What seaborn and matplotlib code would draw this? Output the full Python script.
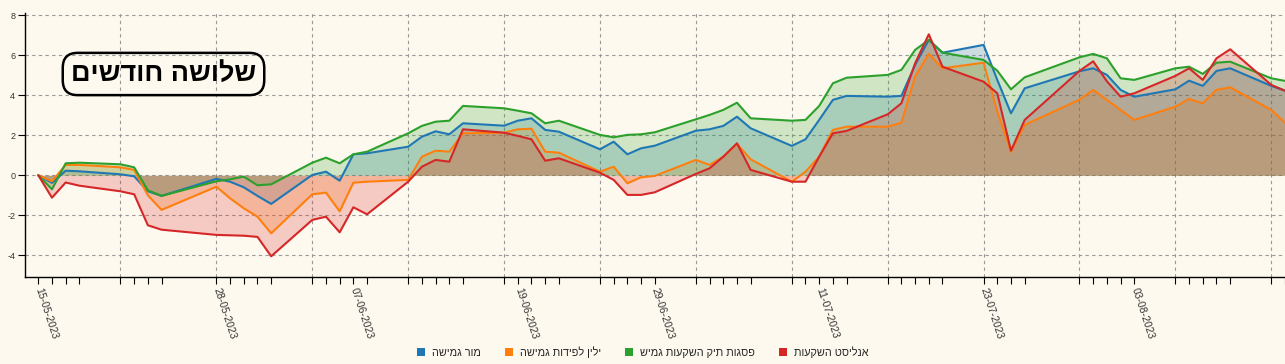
import matplotlib
matplotlib.use('Agg')
import numpy as np
import pandas as pd
import matplotlib.pyplot as plt
from matplotlib.patches import Patch
import seaborn as sns

# trading days (Sun-Thu) shown on the axis
dates = ['2023-05-15', '2023-05-16', '2023-05-17', '2023-05-18', '2023-05-21', '2023-05-22',
         '2023-05-23', '2023-05-24', '2023-05-28', '2023-05-29', '2023-05-30', '2023-05-31',
         '2023-06-01', '2023-06-04', '2023-06-05', '2023-06-06', '2023-06-07', '2023-06-08',
         '2023-06-11', '2023-06-12', '2023-06-13', '2023-06-14', '2023-06-15', '2023-06-18',
         '2023-06-19', '2023-06-20', '2023-06-21', '2023-06-22', '2023-06-25', '2023-06-26',
         '2023-06-27', '2023-06-28', '2023-06-29', '2023-07-02', '2023-07-03', '2023-07-04',
         '2023-07-05', '2023-07-06', '2023-07-09', '2023-07-10', '2023-07-11', '2023-07-12',
         '2023-07-13', '2023-07-16', '2023-07-17', '2023-07-18', '2023-07-19', '2023-07-20',
         '2023-07-23', '2023-07-24', '2023-07-25', '2023-07-26', '2023-07-30', '2023-07-31',
         '2023-08-01', '2023-08-02', '2023-08-03', '2023-08-06', '2023-08-07', '2023-08-08',
         '2023-08-09', '2023-08-10', '2023-08-13', '2023-08-14']

mor = [0, -0.38, 0.23, 0.2, 0.05, -0.05, -0.8, -1.03, -0.18, -0.32, -0.6, -1.03,
       -1.43, 0.02, 0.18, -0.27, 1.05, 1.1, 1.43, 1.93, 2.2, 2.05, 2.6, 2.48,
       2.73, 2.85, 2.27, 2.18, 1.3, 1.68, 1.05, 1.35, 1.48, 2.23, 2.3, 2.47,
       2.93, 2.35, 1.47, 1.8, 2.77, 3.77, 3.97, 3.93, 3.97, 5.52, 6.77, 6.13,
       6.52, 4.77, 3.1, 4.35, 5.2, 5.35, 5.02, 4.27, 3.93, 4.3, 4.73, 4.47,
       5.22, 5.35, 4.47, 4.23]
yelin = [0, -0.3, 0.52, 0.52, 0.4, 0.27, -1.0, -1.73, -0.57, -1.15, -1.65, -2.07,
         -2.9, -0.95, -0.87, -1.8, -0.37, -0.32, -0.23, 0.93, 1.23, 1.18, 2.1, 2.13,
         2.3, 2.33, 1.18, 1.13, 0.18, 0.43, -0.4, -0.1, -0.03, 0.77, 0.52, 0.93,
         1.57, 0.8, -0.32, 0.18, 0.93, 2.27, 2.43, 2.43, 2.63, 4.93, 6.07, 5.35,
         5.63, 3.18, 1.18, 2.52, 3.78, 4.27, 3.77, 3.27, 2.77, 3.43, 3.82, 3.6,
         4.27, 4.4, 3.27, 2.63]
psagot = [0, -0.7, 0.6, 0.63, 0.55, 0.4, -0.75, -1.03, -0.3, -0.2, -0.07, -0.5,
          -0.45, 0.63, 0.88, 0.6, 1.05, 1.18, 2.1, 2.47, 2.68, 2.73, 3.47, 3.35,
          3.23, 3.1, 2.6, 2.73, 2.02, 1.9, 2.02, 2.05, 2.15, 2.8, 3.02, 3.27,
          3.63, 2.85, 2.73, 2.77, 3.47, 4.6, 4.88, 5.02, 5.27, 6.27, 6.77, 6.13,
          5.77, 5.23, 4.3, 4.9, 5.9, 6.07, 5.85, 4.85, 4.77, 5.35, 5.43, 5.07,
          5.63, 5.68, 4.85, 4.72]
analyst = [0, -1.12, -0.36, -0.52, -0.8, -0.95, -2.5, -2.72, -2.98, -3.0, -3.02, -3.08,
           -4.05, -2.23, -2.07, -2.85, -1.6, -1.95, -0.32, 0.43, 0.77, 0.68, 2.3, 2.13,
           1.97, 1.8, 0.73, 0.85, 0.13, -0.23, -0.98, -0.98, -0.85, 0.07, 0.35, 0.93,
           1.6, 0.27, -0.32, -0.32, 0.93, 2.1, 2.22, 3.05, 3.6, 5.6, 7.05, 5.43,
           4.68, 4.1, 1.23, 2.77, 5.22, 5.7, 4.7, 3.93, 4.1, 4.97, 5.35, 4.77,
           5.85, 6.3, 4.52, 4.23]

names = ['מור גמישה', 'ילין לפידות גמישה', 'פסגות תיק השקעות גמיש', 'אנליסט השקעות']
colors = ['#1f77b4', '#ff7f0e', '#2ca02c', '#d62728']
title = 'שלושה חודשים'
yticks = [-4, -2, 0, 2, 4, 6, 8]

bg = '#fdf9ee'

sns.set_theme(style='ticks')
plt.rcParams['font.family'] = ['Liberation Sans', 'DejaVu Sans']


def rtl(s):
    # matplotlib has no bidi support, so hebrew is reversed for display
    return s[::-1]


d = pd.to_datetime(dates)
series = [mor, yelin, psagot, analyst]
df = pd.concat([pd.DataFrame({'date': d, 'value': v, 'fund': n})
                for n, v in zip(names, series)])

fig = plt.figure(figsize=(12.85, 3.64), dpi=100, facecolor=bg)
W, H = 1285, 364
ax = fig.add_axes([25 / W, 1 - 276.7 / H, 1260 / W, 264 / H], facecolor=bg)

for v, c in zip(series, colors):
    ax.fill_between(d, v, 0, color=c, alpha=0.22, lw=0, zorder=2)

sns.lineplot(data=df, x='date', y='value', hue='fund', hue_order=names,
             palette=colors, linewidth=1.5, legend=False, ax=ax, zorder=3,
             solid_joinstyle='round')

start = d[0]
ax.set_xlim(start - pd.Timedelta(days=0.969), start + pd.Timedelta(days=90.8))
ax.set_ylim(-5.07, 8.13)

# every trading day gets a tick, every 8th a label
ax.xaxis.remove_overlapping_locs = False
ax.set_xticks(d)
ax.set_xticklabels([x.strftime('%d-%m-%Y') if i % 8 == 0 else '' for i, x in enumerate(d)],
                   rotation=-72, ha='left', va='center', rotation_mode='anchor', fontsize=7.5,
                   color='#333333')
sundays = pd.date_range('2023-05-21', '2023-08-13', freq='7D')
ax.set_xticks(sundays, minor=True)
ax.set_yticks(yticks)
ax.set_yticklabels([str(t) for t in yticks], fontsize=6.5, color='#333333')

ax.tick_params(axis='x', which='major', direction='out', length=5, width=0.8, color='black', pad=3)
ax.tick_params(axis='x', which='minor', length=0)
ax.tick_params(axis='y', direction='out', length=5, width=0.8, color='black', pad=2)

ax.grid(False)
ax.yaxis.grid(True, color='#999999', linestyle=(0, (3, 3)), linewidth=0.8)
ax.xaxis.grid(True, which='minor', color='#999999', linestyle=(0, (3, 3)), linewidth=0.8)
ax.set_axisbelow(True)

for s in ['top', 'right']:
    ax.spines[s].set_visible(False)
for s in ['left', 'bottom']:
    ax.spines[s].set_color('black')
    ax.spines[s].set_linewidth(1)
ax.set_xlabel('')
ax.set_ylabel('')

fig.text(163.5 / W, 1 - 74 / H, rtl(title), ha='center', va='center', fontsize=19.5,
         fontweight='bold', color='black',
         bbox=dict(boxstyle='round,pad=0.3,rounding_size=0.55', fc='none', ec='black', lw=1.8))

handles = [Patch(facecolor=c, edgecolor='none') for c in colors]
fig.legend(handles, [rtl(n) for n in names], loc='center', bbox_to_anchor=(0.5, 1 - 352 / H),
           ncol=4, frameon=False, fontsize=7.8, handlelength=0.8, handleheight=0.8,
           handletextpad=0.6, columnspacing=2.2)

fig.savefig('out.png', dpi=100, facecolor=bg)
